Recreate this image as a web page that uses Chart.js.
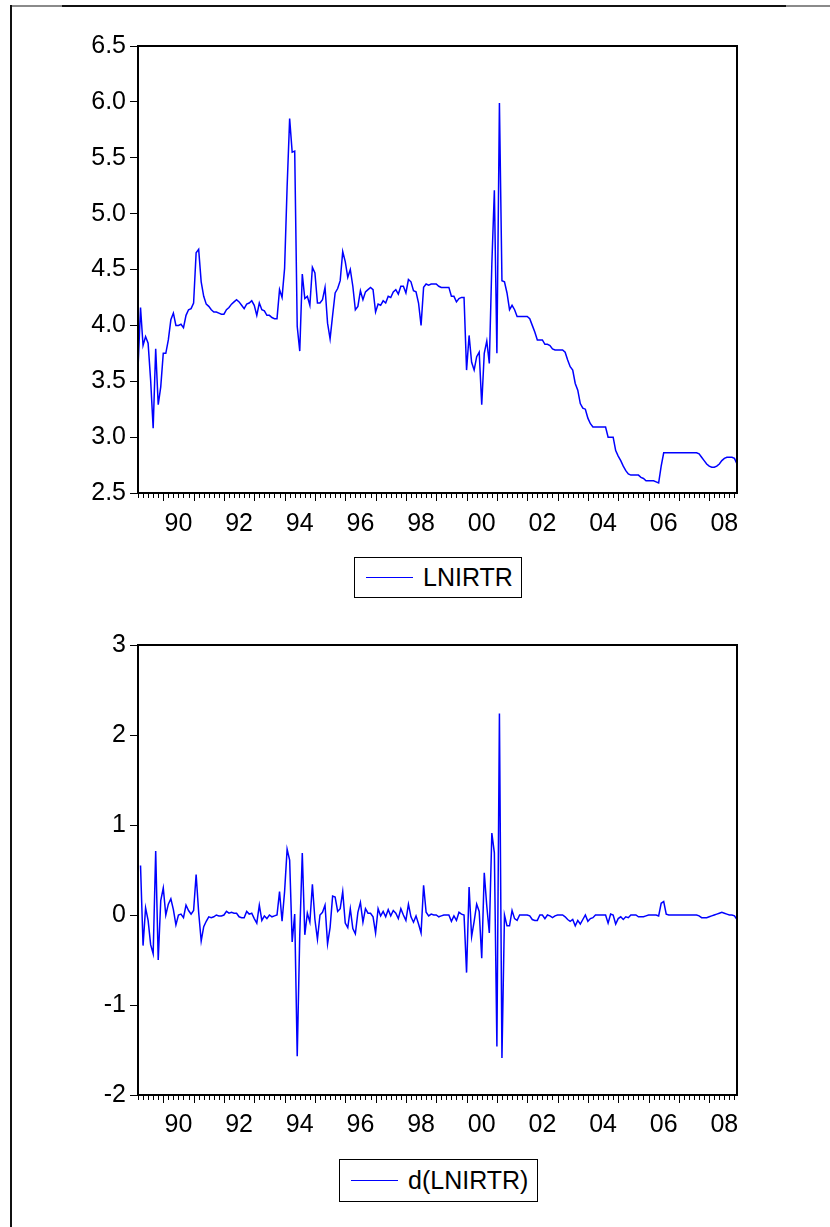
<!DOCTYPE html>
<html>
<head>
<meta charset="utf-8">
<script src="https://cdn.jsdelivr.net/npm/chart.js@4.4.1/dist/chart.umd.min.js"></script>
<style>
  body { margin: 0; background: #fff; }
  #page { position: relative; width: 830px; height: 1227px; overflow: hidden; font-family: "Liberation Sans", Arial, sans-serif; }
  .outer { position: absolute; left: 10px; top: 5px; width: 900px; height: 1300px; border-top: 2px solid #111; border-left: 2px solid #111; }
  .edge { position: absolute; top: 5px; height: 2px; background: #8a8a8a; }
  canvas { position: absolute; left: 0; }
  .legend { position: absolute; box-sizing: border-box; border: 1px solid #000; background: #fff; display: flex; align-items: center; font-size: 25px; color: #000; white-space: nowrap; }
  .legend .swatch { width: 47px; border-top: 1.5px solid #0000ff; margin: 0 10px 0 11px; }
</style>
</head>
<body>
<div id="page">
  <div class="outer"></div>
  <div class="edge" style="left:12px; width:50px;"></div>
  <div class="edge" style="left:786px; width:44px;"></div>
  <canvas id="top" width="830" height="600" style="top:0px"></canvas>
  <canvas id="bottom" width="830" height="627" style="top:600px"></canvas>
  <div class="legend" style="left:354px; top:557px; width:168px; height:41px;"><span class="swatch"></span><span>LNIRTR</span></div>
  <div class="legend" style="left:339px; top:1159px; width:199px; height:43px;"><span class="swatch"></span><span>d(LNIRTR)</span></div>
</div>
<script>
// monthly sample, Mar 1989 .. Dec 2008
const startYear = 1989;
const startMonth = 3;

const lnirtr = [
  3.61, 4.16, 3.82, 3.90, 3.84, 3.51, 3.08, 3.79, 3.29, 3.45,
  3.75, 3.75, 3.87, 4.05, 4.11, 4.00, 4.00, 4.01, 3.98, 4.09,
  4.14, 4.15, 4.20, 4.65, 4.68, 4.39, 4.26, 4.19, 4.17, 4.14,
  4.12, 4.12, 4.11, 4.10, 4.10, 4.14, 4.16, 4.19, 4.21, 4.23,
  4.21, 4.18, 4.15, 4.19, 4.20, 4.22, 4.18, 4.09, 4.20, 4.14,
  4.13, 4.09, 4.09, 4.07, 4.06, 4.06, 4.32, 4.25, 4.51, 5.24,
  5.85, 5.55, 5.56, 3.99, 3.77, 4.46, 4.24, 4.26, 4.18, 4.52,
  4.47, 4.20, 4.20, 4.23, 4.34, 4.02, 3.88, 4.09, 4.29, 4.33,
  4.40, 4.66, 4.57, 4.43, 4.50, 4.35, 4.14, 4.17, 4.31, 4.23,
  4.30, 4.32, 4.34, 4.32, 4.12, 4.19, 4.18, 4.22, 4.20, 4.26,
  4.25, 4.30, 4.32, 4.28, 4.35, 4.35, 4.29, 4.41, 4.39, 4.31,
  4.30, 4.20, 4.00, 4.34, 4.37, 4.36, 4.37, 4.37, 4.37, 4.35,
  4.34, 4.34, 4.34, 4.34, 4.26, 4.26, 4.21, 4.24, 4.25, 4.25,
  3.60, 3.91, 3.67, 3.60, 3.72, 3.76, 3.29, 3.75, 3.86, 3.66,
  4.55, 5.21, 3.75, 5.99, 4.40, 4.39, 4.29, 4.14, 4.18, 4.14,
  4.08, 4.08, 4.08, 4.08, 4.08, 4.06, 4.00, 3.94, 3.87, 3.87,
  3.87, 3.83, 3.83, 3.82, 3.79, 3.78, 3.78, 3.78, 3.78, 3.76,
  3.69, 3.63, 3.60, 3.48, 3.42, 3.30, 3.26, 3.25, 3.17, 3.12,
  3.09, 3.09, 3.09, 3.09, 3.09, 3.09, 3.00, 3.00, 3.00, 2.88,
  2.83, 2.79, 2.74, 2.70, 2.67, 2.66, 2.66, 2.66, 2.66, 2.64,
  2.63, 2.61, 2.61, 2.61, 2.61, 2.60, 2.59, 2.74, 2.86, 2.86,
  2.86, 2.86, 2.86, 2.86, 2.86, 2.86, 2.86, 2.86, 2.86, 2.86,
  2.86, 2.86, 2.85, 2.82, 2.79, 2.76, 2.74, 2.73, 2.73, 2.74,
  2.76, 2.79, 2.81, 2.82, 2.82, 2.82, 2.81, 2.76
];

const dLnirtr = [
  null, 0.55, -0.34, 0.08, -0.06, -0.33, -0.43, 0.71, -0.50, 0.16,
  0.30, 0.00, 0.12, 0.18, 0.06, -0.11, 0.00, 0.01, -0.03, 0.11,
  0.05, 0.01, 0.05, 0.45, 0.03, -0.29, -0.13, -0.07, -0.02, -0.03,
  -0.02, 0.00, -0.01, -0.01, 0.00, 0.04, 0.02, 0.03, 0.02, 0.02,
  -0.02, -0.03, -0.03, 0.04, 0.01, 0.02, -0.04, -0.09, 0.11, -0.06,
  -0.01, -0.04, 0.00, -0.02, -0.01, 0.00, 0.26, -0.07, 0.26, 0.73,
  0.61, -0.30, 0.01, -1.57, -0.22, 0.69, -0.22, 0.02, -0.08, 0.34,
  -0.05, -0.27, 0.00, 0.03, 0.11, -0.32, -0.14, 0.21, 0.20, 0.04,
  0.07, 0.26, -0.09, -0.14, 0.07, -0.15, -0.21, 0.03, 0.14, -0.08,
  0.07, 0.02, 0.02, -0.02, -0.20, 0.07, -0.01, 0.04, -0.02, 0.06,
  -0.01, 0.05, 0.02, -0.04, 0.07, 0.00, -0.06, 0.12, -0.02, -0.08,
  -0.01, -0.10, -0.20, 0.33, 0.03, -0.01, 0.01, 0.00, 0.00, -0.02,
  -0.01, 0.00, 0.00, 0.00, -0.07, -0.01, -0.06, 0.03, 0.01, 0.00,
  -0.64, 0.31, -0.24, -0.07, 0.12, 0.04, -0.48, 0.47, 0.10, -0.20,
  0.91, 0.69, -1.46, 2.24, -1.59, 0.00, -0.12, -0.12, 0.05, -0.04,
  -0.06, 0.00, 0.00, 0.00, 0.00, -0.01, -0.05, -0.06, -0.06, 0.00,
  0.00, -0.04, 0.00, -0.01, -0.03, -0.01, 0.00, 0.00, 0.00, -0.02,
  -0.05, -0.07, -0.05, -0.12, -0.06, -0.10, -0.05, 0.00, -0.07, -0.04,
  -0.03, 0.00, 0.00, 0.00, 0.00, 0.00, -0.09, 0.01, 0.00, -0.10,
  -0.04, -0.02, -0.05, -0.02, -0.03, 0.00, 0.00, 0.00, -0.02, -0.02,
  -0.02, -0.01, 0.00, 0.00, 0.00, 0.00, -0.01, 0.13, 0.15, 0.01,
  0.00, 0.00, 0.00, 0.00, 0.00, 0.00, 0.00, 0.00, 0.00, 0.00,
  0.00, 0.00, -0.01, -0.03, -0.03, -0.03, -0.02, -0.01, 0.00, 0.01,
  0.02, 0.03, 0.02, 0.01, 0.00, 0.00, -0.01, -0.05
];

const labelYears = [1990, 1992, 1994, 1996, 1998, 2000, 2002, 2004, 2006, 2008];
const yearLabels = ['90', '92', '94', '96', '98', '00', '02', '04', '06', '08'];
const topTicks = [2.5, 3.0, 3.5, 4.0, 4.5, 5.0, 5.5, 6.0, 6.5];
const bottomTicks = [-2, -1, 0, 1, 2, 3];

const FONT = { family: '"Liberation Sans", Arial, sans-serif', size: 25 };

function monthX(i) {
    return startYear + (startMonth - 1 + i) / 12;
}

// black box round the plot area
const frame = {
    id: 'frame',
    afterDraw(chart) {
        const a = chart.chartArea, ctx = chart.ctx;
        ctx.save();
        ctx.strokeStyle = '#000';
        ctx.lineWidth = 2;
        ctx.strokeRect(a.left, a.top, a.right - a.left, a.bottom - a.top);
        ctx.restore();
    }
};

// month ticks under the x axis, longer at each January
const monthTicks = {
    id: 'monthTicks',
    afterDraw(chart) {
        const xs = chart.scales.x, ctx = chart.ctx, b = chart.chartArea.bottom;
        ctx.save();
        ctx.strokeStyle = '#000';
        ctx.lineWidth = 1;
        ctx.beginPath();
        for (let m = 0; m < lnirtr.length; m++) {
            const cal = (startMonth - 1 + m) % 12;
            if (cal % 2 !== 0) continue;
            const px = Math.round(xs.getPixelForValue(monthX(m))) + 0.5;
            ctx.moveTo(px, b);
            ctx.lineTo(px, b + (cal === 0 ? 8 : 5));
        }
        ctx.stroke();
        ctx.restore();
    }
};

function makeChart(id, values, yTicks, fmt, areaTop, areaBottom, canvasH, labelPad) {
    const points = values.map((v, i) => ({ x: monthX(i), y: v }));
    return new Chart(document.getElementById(id), {
        type: 'line',
        data: {
            datasets: [{
                data: points,
                borderColor: '#0000ff',
                borderWidth: 1.5,
                pointRadius: 0,
                tension: 0,
                spanGaps: false
            }]
        },
        options: {
            responsive: false,
            animation: false,
            devicePixelRatio: 1,
            layout: { padding: { top: areaTop, right: 830 - 737, left: 0, bottom: 0 } },
            plugins: { legend: { display: false }, tooltip: { enabled: false } },
            scales: {
                x: {
                    type: 'linear',
                    min: monthX(0),
                    max: monthX(values.length - 1),
                    afterFit: s => { s.height = canvasH - areaBottom; },
                    afterBuildTicks: s => { s.ticks = labelYears.map(y => ({ value: y + 0.5 })); },
                    ticks: {
                        autoSkip: false,
                        maxRotation: 0,
                        padding: labelPad,
                        color: '#000',
                        font: FONT,
                        callback: (v, i) => yearLabels[i]
                    },
                    grid: { display: false, drawTicks: false },
                    border: { display: false }
                },
                y: {
                    min: yTicks[0],
                    max: yTicks[yTicks.length - 1],
                    afterFit: s => { s.width = 138; },
                    afterBuildTicks: s => { s.ticks = yTicks.map(v => ({ value: v })); },
                    ticks: {
                        padding: 4,
                        color: '#000',
                        font: FONT,
                        callback: v => fmt(v)
                    },
                    grid: {
                        drawOnChartArea: false,
                        tickLength: 8,
                        tickColor: '#000',
                        tickWidth: 1
                    },
                    border: { display: false }
                }
            }
        },
        plugins: [frame, monthTicks]
    });
}

makeChart('top', lnirtr, topTicks, v => v.toFixed(1), 46, 493, 600, 16);
makeChart('bottom', dLnirtr, bottomTicks, v => String(v), 45, 495, 627, 15);
</script>
</body>
</html>
